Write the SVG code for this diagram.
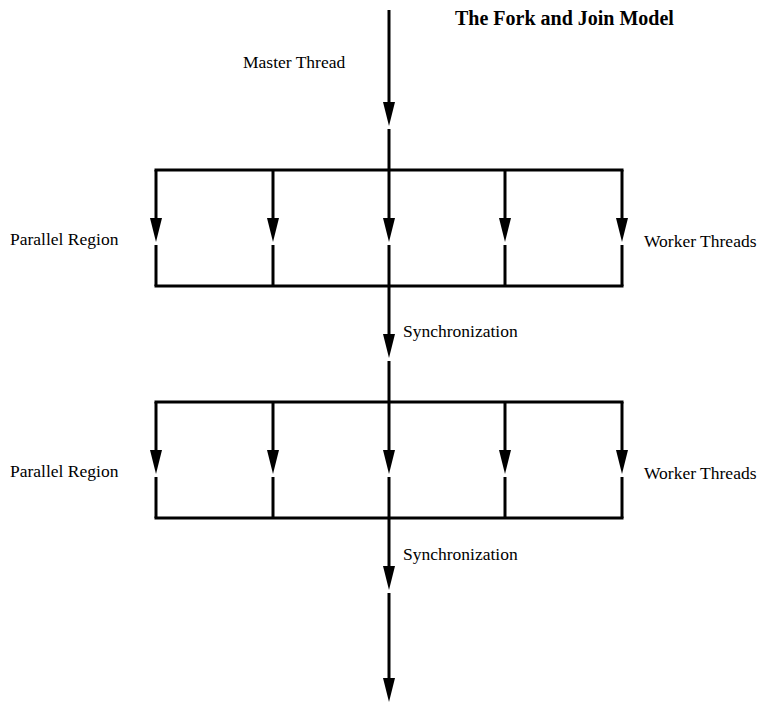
<svg xmlns="http://www.w3.org/2000/svg" width="757" height="702" viewBox="0 0 757 702">
<style>
.ln{stroke:#000;stroke-width:3;fill:none}
.ar{stroke:#000;stroke-width:3;fill:none;marker-end:url(#ah)}
.t{font-family:"Liberation Serif","Times New Roman",serif;font-size:17.5px;fill:#000}
.title{font-family:"Liberation Serif","Times New Roman",serif;font-size:20px;font-weight:bold;fill:#000}
</style>
<defs>
<marker id="ah" markerUnits="userSpaceOnUse" viewBox="0 -6 24 12" markerWidth="24" markerHeight="12" refX="14" refY="0" orient="auto">
<path d="M0,-6 L24,0 L0,6 z" fill="#000"/>
</marker>
</defs>
<rect width="757" height="702" fill="#fff"/>
<g id="connectors">
<line class="ar" x1="389" y1="10" x2="389" y2="116"/>
<line class="ln" x1="389" y1="129" x2="389" y2="170"/>
<line class="ln" x1="154.5" y1="170" x2="623.5" y2="170"/>
<line class="ln" x1="154.5" y1="286" x2="623.5" y2="286"/>
<line class="ar" x1="156" y1="170" x2="156" y2="232"/><line class="ln" x1="156" y1="245" x2="156" y2="286"/>
<line class="ar" x1="273" y1="170" x2="273" y2="232"/><line class="ln" x1="273" y1="245" x2="273" y2="286"/>
<line class="ar" x1="389" y1="170" x2="389" y2="232"/><line class="ln" x1="389" y1="245" x2="389" y2="286"/>
<line class="ar" x1="505" y1="170" x2="505" y2="232"/><line class="ln" x1="505" y1="245" x2="505" y2="286"/>
<line class="ar" x1="622" y1="170" x2="622" y2="232"/><line class="ln" x1="622" y1="245" x2="622" y2="286"/>
<line class="ar" x1="389" y1="286" x2="389" y2="348"/>
<line class="ln" x1="389" y1="361" x2="389" y2="402"/>
<line class="ln" x1="154.5" y1="402" x2="623.5" y2="402"/>
<line class="ln" x1="154.5" y1="518" x2="623.5" y2="518"/>
<line class="ar" x1="156" y1="402" x2="156" y2="464"/><line class="ln" x1="156" y1="477" x2="156" y2="518"/>
<line class="ar" x1="273" y1="402" x2="273" y2="464"/><line class="ln" x1="273" y1="477" x2="273" y2="518"/>
<line class="ar" x1="389" y1="402" x2="389" y2="464"/><line class="ln" x1="389" y1="477" x2="389" y2="518"/>
<line class="ar" x1="505" y1="402" x2="505" y2="464"/><line class="ln" x1="505" y1="477" x2="505" y2="518"/>
<line class="ar" x1="622" y1="402" x2="622" y2="464"/><line class="ln" x1="622" y1="477" x2="622" y2="518"/>
<line class="ar" x1="389" y1="518" x2="389" y2="580"/>
<line class="ar" x1="389" y1="593" x2="389" y2="692"/>
</g>
<g id="title"><text class="title" x="455" y="25">The Fork and Join Model</text></g>
<g id="master"><text class="t" x="243" y="68">Master Thread</text></g>
<g id="region1"><text class="t" x="10" y="245">Parallel Region</text></g>
<g id="workers1"><text class="t" x="644" y="247">Worker Threads</text></g>
<g id="sync1"><text class="t" x="403" y="337">Synchronization</text></g>
<g id="region2"><text class="t" x="10" y="477">Parallel Region</text></g>
<g id="workers2"><text class="t" x="644" y="479">Worker Threads</text></g>
<g id="sync2"><text class="t" x="403" y="560">Synchronization</text></g>
</svg>
